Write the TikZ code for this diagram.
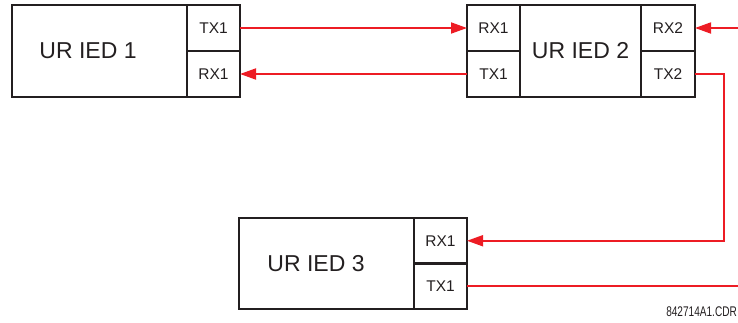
\documentclass[tikz,border=0pt]{standalone}
\usepackage{fontspec}
\setmainfont{Liberation Sans}
\usetikzlibrary{arrows.meta}
\definecolor{wire}{HTML}{ED1C24}
\definecolor{ink}{HTML}{231F20}
\tikzset{
  x=1pt,y=-1pt,
  box/.style={draw=ink,line width=2.2pt,minimum width=#1,minimum height=46pt,inner sep=0pt,outer sep=0pt,anchor=center},
  mainbox/.style={draw=ink,line width=2.2pt,minimum width=#1,minimum height=92pt,inner sep=0pt,outer sep=0pt},
  port/.style={box=#1,font=\fontsize{15.5}{16}\selectfont,text=ink},
  ied/.style={font=\fontsize{23}{24}\selectfont,text=ink,inner sep=0pt},
  link/.style={draw=wire,line width=1.8pt},
  arr/.style={link,-{Triangle[length=16pt,width=11pt]}},
}
\begin{document}
\begin{tikzpicture}
\useasboundingbox (0,0) rectangle (738,322);
% IED 1
\node[mainbox=228pt] (m1) at (126,51) {};
\node[ied] (l1) at (88,51) {UR IED 1};
\node[port=53pt] (tx11) at (213.5,28) {TX1};
\node[port=53pt] (rx11) at (213.5,74) {RX1};
% IED 2
\node[mainbox=228pt] (m2) at (581,51) {};
\node[ied] (l2) at (580.5,51) {UR IED 2};
\node[port=53pt] (rx21) at (493.5,28) {RX1};
\node[port=53pt] (tx21) at (493.5,74) {TX1};
\node[port=54pt] (rx22) at (668,28) {RX2};
\node[port=54pt] (tx22) at (668,74) {TX2};
% IED 3
\node[mainbox=228pt,minimum height=91pt] (m3) at (353,263.5) {};
\node[ied] (l3) at (316,263.5) {UR IED 3};
\node[port=53pt,minimum height=45.5pt] (rx31) at (440.5,240.75) {RX1};
\node[port=53pt,minimum height=45.5pt] (tx31) at (440.5,286.25) {TX1};
% connections
\coordinate (in2) at (738,28);
\coordinate (bend1) at (724,74);
\coordinate (bend2) at (724,240.75);
\coordinate (out3) at (738,286.25);
\draw[arr] (tx11.east) -- (rx21.west);
\draw[arr] (tx21.west) -- (rx11.east);
\draw[arr] (in2) -- (rx22.east);
\draw[arr] (tx22.east) -- (bend1) -- (bend2) -- (rx31.east);
\draw[link] (tx31.east) -- (out3);
\node[anchor=south east,inner sep=0pt,xscale=0.72,font=\fontsize{14}{15}\selectfont,text=ink] (code) at (737,317) {842714A1.CDR};
\end{tikzpicture}
\end{document}
